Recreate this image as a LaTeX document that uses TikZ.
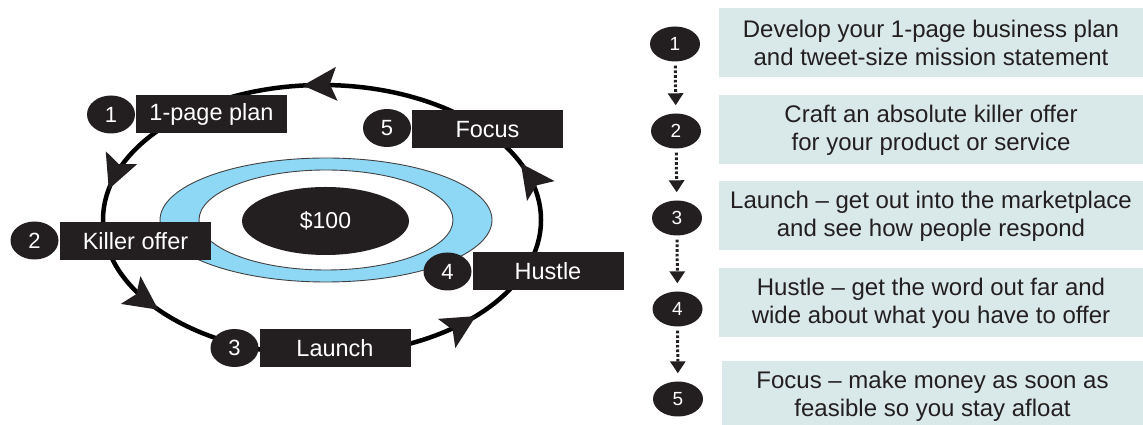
\documentclass[tikz,border=0pt]{standalone}
\usepackage{fontspec}
\setmainfont{Liberation Sans}
\usetikzlibrary{arrows.meta,shapes.geometric}
\definecolor{dark}{HTML}{231F20}
\definecolor{ringblue}{HTML}{8ED8F6}
\definecolor{panel}{HTML}{D9E8E8}
\begin{document}
\begin{tikzpicture}[x=1pt,y=1pt,
 numdot/.style={ellipse, fill=dark, text=white, minimum width=48pt, minimum height=38pt, inner sep=0pt, font=\fontsize{22}{24}\selectfont},
 labelbox/.style={rectangle, fill=dark, text=white, minimum width=151pt, minimum height=38pt, inner sep=0pt, font=\fontsize{23.5}{26}\selectfont},
 loopline/.style={line width=4.5pt, draw=black},
 loophead/.style={fill=dark},
 rnum/.style={ellipse, fill=dark, text=white, minimum width=50pt, minimum height=35pt, inner sep=0pt, font=\fontsize{19}{20}\selectfont},
 panelbox/.style={rectangle, fill=panel, text=dark, inner sep=0pt, align=center, minimum height=69pt, font=\fontsize{24}{28}\selectfont},
 dotarrow/.style={line width=3pt, dash pattern=on 2.7pt off 2pt, draw=dark, shorten <=4pt, shorten >=8pt, -{Triangle[length=12pt,width=15pt]}}
]
\useasboundingbox (0,0) rectangle (1143,425);

% central ring
\path[fill=ringblue, even odd rule, draw=dark!85, line width=0.9pt]
  (326,205) ellipse [x radius=166, y radius=62]
  (326,205) ellipse [x radius=127, y radius=50];
\node[ellipse, fill=dark, text=white, minimum width=167pt, minimum height=68pt, inner sep=0pt, font=\fontsize{23}{26}\selectfont] (money) at (325.5,204) {\$100};

% loop with arrowheads
\draw[loopline] (322,205) ellipse [x radius=219, y radius=135];
\begin{scope}[shift={(322,205)}]
\foreach \t in {94.5,166,221,314,24}{
  \pgfmathsetmacro\ang{atan2(135*cos(\t), -219*sin(\t))}
  \fill[loophead, shift={(\t:219 and 135)}, rotate=\ang]
    (2,0) -- (-32,17) -- (-25,0) -- (-32,-17) -- cycle;
}
\end{scope}

% loop labels
\node[numdot] (n1) at (111,310.5) {1};
\node[labelbox] (b1) at (211.5,311) {1-page plan};
\node[numdot] (n2) at (34.5,184.5) {2};
\node[labelbox] (b2) at (135.5,184) {Killer offer};
\node[numdot] (n3) at (234.5,77) {3};
\node[labelbox] (b3) at (335,77) {Launch};
\node[numdot] (n4) at (447.5,153.5) {4};
\node[labelbox] (b4) at (548,153.5) {Hustle};
\node[numdot] (n5) at (387,297) {5};
\node[labelbox] (b5) at (487.5,295.5) {Focus};

% right column
\node[panelbox, minimum width=424pt] (p1) at (931,382) {Develop your 1-page business plan\\and tweet-size mission statement};
\node[panelbox, minimum width=424pt] (p2) at (931,295) {Craft an absolute killer offer\\for your product or service};
\node[panelbox, minimum width=424pt] (p3) at (931,209) {Launch -- get out into the marketplace\\and see how people respond};
\node[panelbox, minimum width=424pt] (p4) at (931,122) {Hustle -- get the word out far and\\wide about what you have to offer};
\node[panelbox, minimum width=421pt, minimum height=70pt] (p5) at (932.5,29) {Focus -- make money as soon as\\feasible so you stay afloat};

\node[rnum] (r1) at (675,381) {1};
\node[rnum] (r2) at (676,294) {2};
\node[rnum] (r3) at (677,207) {3};
\node[rnum] (r4) at (677.5,116) {4};
\node[rnum] (r5) at (678,26) {5};

\draw[dotarrow] (r1) -- (r2);
\draw[dotarrow] (r2) -- (r3);
\draw[dotarrow] (r3) -- (r4);
\draw[dotarrow] (r4) -- (r5);
\end{tikzpicture}
\end{document}
